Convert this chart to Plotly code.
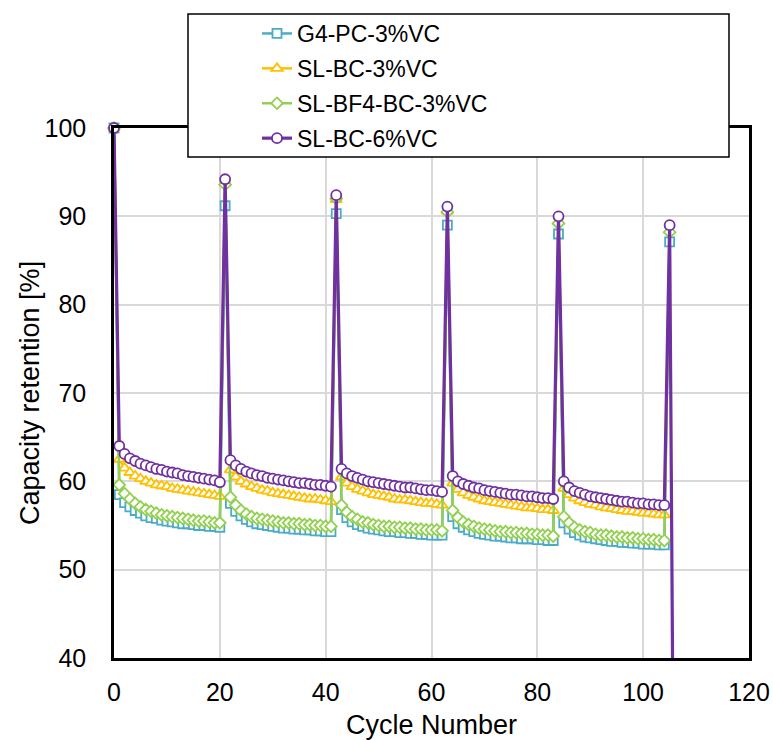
import plotly.graph_objects as go

# Cycle numbers (0..106)
cycles = list(range(0, 107))

g4_pc_3vc = [
    100.0,
    58.5, 57.6, 57.1, 56.7, 56.4, 56.1, 55.9, 55.8, 55.6, 55.5, 55.4, 55.3, 55.2, 55.2, 55.1, 55.0, 55.0, 54.9, 54.9, 54.8,
    91.2,
    57.5, 56.6, 56.1, 55.7, 55.4, 55.2, 55.1, 55.0, 54.9, 54.8, 54.7, 54.7, 54.6, 54.6, 54.5, 54.5, 54.4, 54.4, 54.3, 54.3,
    90.3,
    56.8, 55.9, 55.4, 55.1, 54.9, 54.7, 54.6, 54.5, 54.4, 54.3, 54.3, 54.2, 54.2, 54.1, 54.1, 54.0, 54.0, 53.9, 53.9, 53.9,
    89.0,
    56.0, 55.2, 54.8, 54.5, 54.3, 54.1, 54.0, 53.9, 53.8, 53.8, 53.7, 53.6, 53.6, 53.5, 53.5, 53.5, 53.4, 53.4, 53.3, 53.3,
    88.0,
    55.3, 54.6, 54.2, 53.9, 53.7, 53.6, 53.5, 53.4, 53.3, 53.2, 53.2, 53.1, 53.1, 53.0, 53.0, 52.9, 52.9, 52.9, 52.8, 52.8,
    87.1,
]

sl_bc_3vc = [
    100.0,
    62.5, 61.5, 61.0, 60.6, 60.3, 60.0, 59.8, 59.6, 59.5, 59.4, 59.2, 59.1, 59.0, 58.9, 58.8, 58.7, 58.6, 58.5, 58.4, 58.3,
    93.8,
    61.3, 60.5, 60.0, 59.7, 59.4, 59.2, 59.0, 58.9, 58.7, 58.6, 58.5, 58.4, 58.3, 58.2, 58.1, 58.0, 58.0, 57.9, 57.8, 57.7,
    91.9,
    60.5, 59.8, 59.4, 59.1, 58.9, 58.7, 58.5, 58.4, 58.3, 58.2, 58.0, 57.9, 57.9, 57.8, 57.7, 57.6, 57.5, 57.5, 57.4, 57.3,
    90.6,
    59.8, 59.1, 58.7, 58.4, 58.2, 58.0, 57.8, 57.7, 57.6, 57.5, 57.4, 57.3, 57.2, 57.1, 57.0, 57.0, 56.9, 56.8, 56.8, 56.7,
    89.4,
    59.2, 58.5, 58.1, 57.8, 57.6, 57.4, 57.3, 57.1, 57.0, 56.9, 56.8, 56.7, 56.6, 56.6, 56.5, 56.4, 56.4, 56.3, 56.2, 56.2,
    88.4,
]

sl_bf4_bc_3vc = [
    100.0,
    59.6, 58.6, 58.0, 57.5, 57.1, 56.8, 56.6, 56.4, 56.2, 56.1, 56.0, 55.9, 55.8, 55.7, 55.6, 55.5, 55.5, 55.4, 55.3, 55.3,
    93.6,
    58.2, 57.3, 56.7, 56.3, 56.0, 55.8, 55.7, 55.6, 55.5, 55.4, 55.3, 55.3, 55.2, 55.2, 55.1, 55.1, 55.0, 55.0, 54.9, 54.9,
    92.0,
    57.3, 56.5, 56.0, 55.7, 55.4, 55.3, 55.1, 55.0, 54.9, 54.9, 54.8, 54.8, 54.7, 54.7, 54.6, 54.6, 54.5, 54.5, 54.5, 54.4,
    90.5,
    56.7, 55.9, 55.4, 55.1, 54.9, 54.7, 54.6, 54.5, 54.4, 54.3, 54.3, 54.2, 54.2, 54.1, 54.1, 54.0, 54.0, 53.9, 53.9, 53.8,
    89.2,
    56.0, 55.3, 54.8, 54.5, 54.3, 54.2, 54.0, 53.9, 53.9, 53.8, 53.7, 53.7, 53.6, 53.6, 53.5, 53.5, 53.4, 53.4, 53.3, 53.3,
    88.2,
]

sl_bc_6vc = [
    100.0,
    64.0, 63.1, 62.6, 62.3, 62.0, 61.8, 61.6, 61.4, 61.3, 61.1, 61.0, 60.9, 60.7, 60.6, 60.5, 60.4, 60.3, 60.2, 60.1, 59.9,
    94.2,
    62.4, 61.8, 61.4, 61.1, 60.9, 60.7, 60.6, 60.4, 60.3, 60.2, 60.1, 60.0, 59.9, 59.8, 59.8, 59.7, 59.6, 59.6, 59.5, 59.4,
    92.4,
    61.4, 60.9, 60.6, 60.4, 60.2, 60.0, 59.9, 59.8, 59.7, 59.6, 59.5, 59.4, 59.3, 59.3, 59.2, 59.1, 59.0, 59.0, 58.9, 58.8,
    91.1,
    60.6, 60.0, 59.7, 59.5, 59.3, 59.2, 59.0, 58.9, 58.8, 58.7, 58.6, 58.5, 58.5, 58.4, 58.3, 58.3, 58.2, 58.1, 58.1, 58.0,
    90.0,
    60.0, 59.3, 58.9, 58.7, 58.5, 58.3, 58.2, 58.1, 58.0, 57.9, 57.8, 57.7, 57.7, 57.6, 57.5, 57.5, 57.4, 57.4, 57.3, 57.3,
    89.0,
    0.0,
]

series_names = ["G4-PC-3%VC", "SL-BC-3%VC", "SL-BF4-BC-3%VC", "SL-BC-6%VC"]
series_values = [g4_pc_3vc, sl_bc_3vc, sl_bf4_bc_3vc, sl_bc_6vc]
colors = ["#4BACC6", "#FFC000", "#92D050", "#7030A0"]
symbols = ["square", "triangle-up", "diamond", "circle"]
line_widths = [2.5, 2.5, 2.5, 3.2]
marker_sizes = [9, 10, 9, 10]

x_ticks = [0, 20, 40, 60, 80, 100, 120]
y_ticks = [40, 50, 60, 70, 80, 90, 100]

FONT = "Arial, Liberation Sans, sans-serif"

fig = go.Figure()
for i, (name, vals) in enumerate(zip(series_names, series_values)):
    fig.add_trace(go.Scatter(
        x=cycles[:len(vals)], y=vals, name=name, mode="lines+markers",
        line=dict(color=colors[i], width=line_widths[i]),
        marker=dict(symbol=symbols[i], size=marker_sizes[i], color="white",
                    line=dict(color=colors[i], width=1.8)),
        cliponaxis=False, legendgroup=name,
    ))

W, H = 773, 740
L, R, T, B = 114, 24, 128, 82
pw, ph = W - L - R, H - T - B

def px_x(p):
    return (p - L) / pw

def px_y(p):
    return (H - B - p) / ph

fig.update_layout(
    width=W, height=H,
    margin=dict(l=L, r=R, t=T, b=B, autoexpand=False),
    paper_bgcolor="white", plot_bgcolor="white",
    font=dict(family=FONT, color="black"),
    showlegend=True,
    legend=dict(
        x=px_x(257), y=px_y(12), xanchor="left", yanchor="top",
        bgcolor="rgba(0,0,0,0)", borderwidth=0,
        font=dict(family=FONT, size=23, color="black"),
        tracegroupgap=2, traceorder="grouped",
    ),
    xaxis=dict(
        range=[0, 120], tickvals=x_ticks, ticktext=[str(v) for v in x_ticks],
        showgrid=True, gridcolor="#D9D9D9", gridwidth=1.5,
        showline=True, linecolor="black", linewidth=2.5, mirror=True,
        ticks="", zeroline=False, ticklabelstandoff=10,
        tickfont=dict(family=FONT, size=25, color="black"),
    ),
    yaxis=dict(
        range=[40, 100], tickvals=y_ticks, ticktext=[str(v) for v in y_ticks],
        showgrid=True, gridcolor="#D9D9D9", gridwidth=1.5,
        showline=True, linecolor="black", linewidth=2.5, mirror=True,
        ticks="", zeroline=False, ticklabelstandoff=20,
        tickfont=dict(family=FONT, size=25, color="black"),
    ),
    shapes=[dict(
        type="rect", xref="paper", yref="paper",
        x0=px_x(188), x1=px_x(729), y0=px_y(157), y1=px_y(14),
        fillcolor="white", line=dict(color="black", width=1.5), layer="above",
    )],
    annotations=[
        dict(text="Capacity retention [%]", xref="paper", yref="paper",
             x=px_x(30), y=0.5, xanchor="center", yanchor="middle",
             textangle=-90, showarrow=False,
             font=dict(family=FONT, size=27, color="black")),
        dict(text="Cycle Number", xref="paper", yref="paper",
             x=0.5, y=px_y(725), xanchor="center", yanchor="middle",
             showarrow=False,
             font=dict(family=FONT, size=27, color="black")),
    ],
)

fig.write_html("out.html")
